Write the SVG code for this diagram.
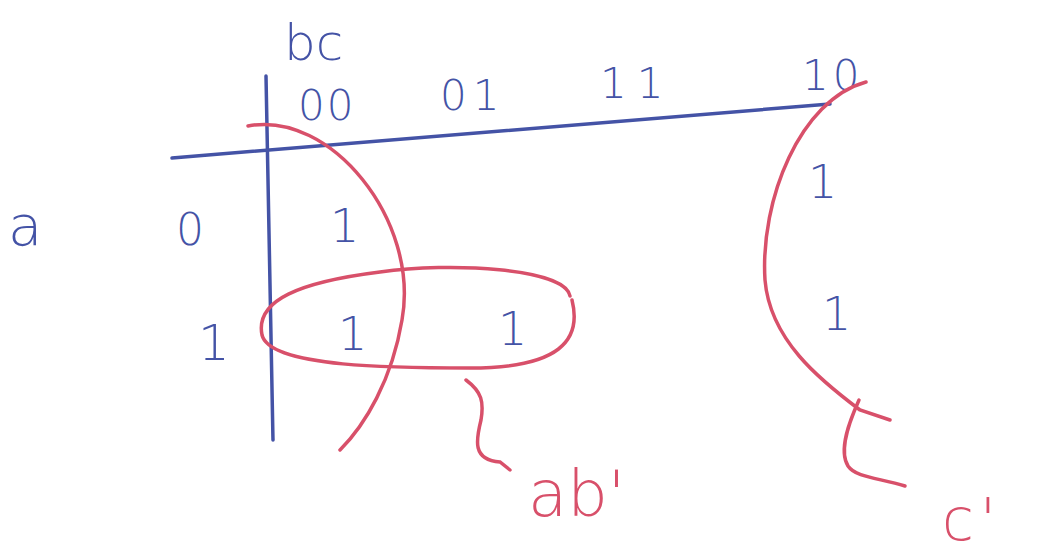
<svg xmlns="http://www.w3.org/2000/svg" width="1040" height="556" viewBox="0 0 1040 556">
<style>
.b{fill:#4453a6;font-family:"DejaVu Sans",sans-serif;font-weight:300}
.r{fill:#d8506a;font-family:"DejaVu Sans",sans-serif;font-weight:300}
.bl{fill:none;stroke:#4453a6;stroke-width:3.5;stroke-linecap:round}
.rl{fill:none;stroke:#d8506a;stroke-width:3.5;stroke-linecap:round}
</style>
<rect width="1040" height="556" fill="#ffffff"/>
<g id="axes">
<path class="bl" d="M266,76 C268,200 270,320 273,440"/>
<path class="bl" d="M172,158 C380,142 600,122 830,104"/>
</g>
<g id="labels">
<text class="b" x="284" y="60" font-size="50">bc</text>
<text class="b" x="298" y="120" font-size="42" letter-spacing="2">00</text>
<text class="b" x="440" y="110" font-size="42" letter-spacing="6">01</text>
<text class="b" x="600" y="98" font-size="42" letter-spacing="10">11</text>
<text class="b" x="802" y="90" font-size="42" letter-spacing="4">10</text>
<text class="b" x="8" y="245" font-size="56">a</text>
<text class="b" x="176" y="245" font-size="44">0</text>
<text class="b" x="198" y="360" font-size="50">1</text>
</g>
<g id="cells">
<text class="b" x="330" y="242" font-size="46">1</text>
<text class="b" x="808" y="198" font-size="46">1</text>
<text class="b" x="338" y="350" font-size="46">1</text>
<text class="b" x="498" y="345" font-size="46">1</text>
<text class="b" x="822" y="330" font-size="46">1</text>
</g>
<g id="connectors">
<path class="rl" d="M248,126 C330,110 420,220 402,320 C392,380 365,425 340,450"/>
<path class="rl" d="M570,296 C565,268 450,262 380,272 C300,282 255,300 262,335 C270,368 400,368 470,368 C560,368 582,340 572,300"/>
<path class="rl" d="M466,380 C482,392 484,402 481,420 C476,440 472,460 500,462 L510,470"/>
<path class="rl" d="M866,82 C800,100 760,200 765,280 C770,340 820,380 860,410 L890,420"/>
<path class="rl" d="M859,400 C850,420 838,450 848,466 C856,478 880,478 905,486"/>
</g>
<g id="results">
<text class="r" x="528" y="516" font-size="64">ab'</text>
<text class="r" x="942" y="540" font-size="58" letter-spacing="6">c'</text>
</g>
</svg>
